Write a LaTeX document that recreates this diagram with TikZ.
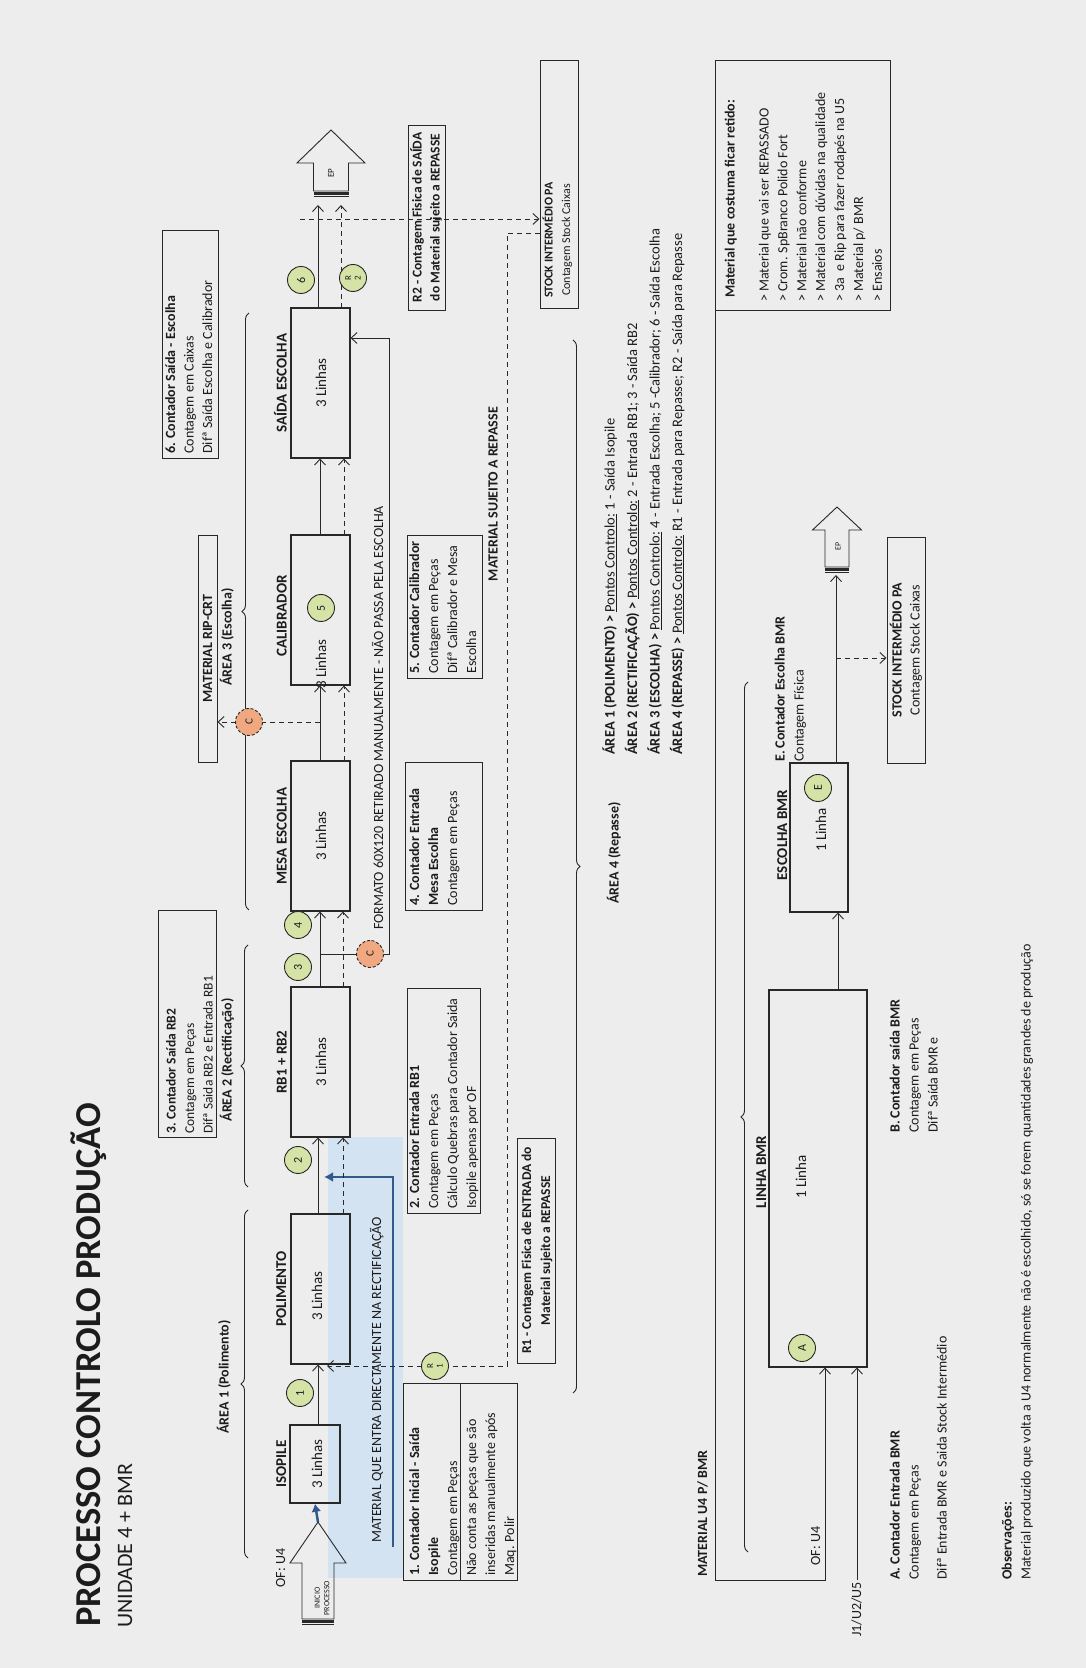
\documentclass[tikz,border=0pt]{standalone}
\usepackage{fontspec}
\setmainfont{Carlito}
\usetikzlibrary{arrows.meta,decorations.pathreplacing}
\pgfdeclarelayer{bgl}
\pgfdeclarelayer{lnl}
\pgfsetlayers{bgl,lnl,main}
\newcommand{\tbl}[1]{\begin{tabular}[t]{@{}l@{}}#1\end{tabular}}
\newcommand{\tbc}[1]{\begin{tabular}[t]{@{}c@{}}#1\end{tabular}}
\definecolor{bgc}{RGB}{237,237,237}
\definecolor{ln}{RGB}{40,40,40}
\definecolor{txtc}{RGB}{28,28,28}
\definecolor{cfill}{RGB}{214,227,166}
\definecolor{ofill}{RGB}{240,168,128}
\definecolor{bfill}{RGB}{212,227,242}
\definecolor{bline}{RGB}{50,90,138}
\tikzset{
 pbox/.style={draw=ln, line width=1.6pt, minimum width=150pt, minimum height=59pt, inner sep=0pt},
 cbox/.style={draw=ln, line width=0.9pt, inner sep=0pt},
 cnum/.style={circle, draw=ln, line width=0.9pt, fill=cfill, minimum size=27pt, inner sep=0pt, text=txtc, font=\fontsize{12}{12}\selectfont},
 rnum/.style={cnum, align=center, font=\fontsize{9}{9.5}\selectfont},
 cor/.style={circle, draw=ln, dash pattern=on 3pt off 2pt, line width=0.9pt, fill=ofill, minimum size=27pt, inner sep=0pt, text=txtc, font=\fontsize{11}{11}\selectfont},
 arr/.style={draw=ln, line width=0.9pt, -{Straight Barb[length=6pt,width=11pt]}},
 darr/.style={arr, dash pattern=on 5pt off 4pt},
 dln/.style={draw=ln, line width=0.9pt, dash pattern=on 5pt off 4pt},
 sln/.style={draw=ln, line width=0.9pt},
 blk/.style={draw=ln, line width=0.9pt, line join=miter},
 txt/.style={inner sep=0pt, text=txtc, font=\fontsize{14}{19}\selectfont},
 btxt/.style={inner sep=0pt, text=txtc, font=\fontsize{14}{19}\selectfont\bfseries},
 lbl/.style={inner sep=0pt, text=txtc, font=\fontsize{15}{18}\selectfont\bfseries, anchor=base},
 lin/.style={inner sep=0pt, text=txtc, font=\fontsize{15}{18}\selectfont, anchor=base},
 curly/.style={draw=ln, line width=0.9pt, decorate, decoration={brace, amplitude=7pt}},
}
\begin{document}
\begin{tikzpicture}[x=1pt,y=1pt]
\useasboundingbox (0,0) rectangle (1086,1668);
\begin{pgfonlayer}{bgl}
\fill[bgc] (0,0) rectangle (1086,1668);
\end{pgfonlayer}
\begin{scope}[x=1pt,y=-1pt,rotate=90,transform shape]
% ---------- background blue region
\begin{pgfonlayer}{bgl}
\fill[bfill] (90,328) rectangle (531,403);
\end{pgfonlayer}
% ---------- title
\node[inner sep=0pt, anchor=base west, text=txtc, font=\fontsize{36.5}{40}\selectfont\bfseries] (title) at (41,100) {PROCESSO CONTROLO PRODUÇÃO};
\node[inner sep=0pt, anchor=base west, text=txtc, font=\fontsize{22}{26}\selectfont] (subtitle) at (40,132) {UNIDADE 4 + BMR};
% ---------- process boxes
\node[pbox, minimum width=78pt, minimum height=50pt] (iso) at (204,315) {};
\node[pbox] (pol) at (379,320.5) {};
\node[pbox] (rb) at (606,320.5) {};
\node[pbox] (mesa) at (832,320.5) {};
\node[pbox] (cal) at (1058,320.5) {};
\node[pbox] (sai) at (1285,320.5) {};
\node[lbl] (isol) at (204,286) {ISOPILE};
\node[lbl] (poll) at (379,286) {POLIMENTO};
\node[lbl] (rbl) at (606,286.5) {RB1 + RB2};
\node[lbl] (mesal) at (832,286.5) {MESA ESCOLHA};
\node[lbl] (call) at (1052,286.5) {CALIBRADOR};
\node[lbl] (sail) at (1285,286.5) {SAÍDA ESCOLHA};
\node[lin] (isot) at (204,322) {3 Linhas};
\node[lin] (polt) at (372,322) {3 Linhas};
\node[lin] (rbt) at (606,326) {3 Linhas};
\node[lin] (mesat) at (832,326) {3 Linhas};
\node[lin] (calt) at (1004,326) {3 Linhas};
\node[lin] (sait) at (1285,326) {3 Linhas};
% ---------- block arrows
\draw[blk] (49,302) -- (105,302) -- (105,290) -- (146,318) -- (105,346) -- (105,334) -- (49,334) -- cycle;
\draw[ln, line width=2.5pt] (46.5,302) -- (46.5,334);
\draw[ln, line width=1.2pt] (43.6,302) -- (43.6,334);
\node[inner sep=0pt, align=center, text=txtc, font=\fontsize{8}{9.5}\selectfont] (ini) at (70,322) {INICIO\\PROCESSO};
\node[txt, anchor=base] (ofu4) at (100,285) {OF: U4};
\draw[blk] (1477,313.5) -- (1505,313.5) -- (1505,297) -- (1538,331) -- (1505,365) -- (1505,348.5) -- (1477,348.5) -- cycle;
\draw[ln, line width=2.5pt] (1474.5,313.5) -- (1474.5,348.5);
\draw[ln, line width=1.2pt] (1471.6,313.5) -- (1471.6,348.5);
\node[inner sep=0pt, text=txtc, font=\fontsize{9}{9}\selectfont] (ep1) at (1495,331) {EP};
\draw[blk] (1101,825) -- (1138,825) -- (1138,812.5) -- (1161,837) -- (1138,861.5) -- (1138,849) -- (1101,849) -- cycle;
\draw[ln, line width=2.5pt] (1098.5,825) -- (1098.5,849);
\draw[ln, line width=1.2pt] (1095.6,825) -- (1095.6,849);
\node[inner sep=0pt, text=txtc, font=\fontsize{8}{8}\selectfont] (ep2) at (1122,838) {EP};
% ---------- blue material
\node[txt, anchor=base west] (mqe) at (125,381) {MATERIAL QUE ENTRA DIRECTAMENTE NA RECTIFICAÇÃO};
\begin{pgfonlayer}{lnl}
\draw[bline, line width=2.2pt, -{Latex[length=9pt,width=10pt]}] (121,393) -- (491,393) -- (491,324);
\draw[bline, line width=2.5pt, -{Latex[length=8pt,width=10pt]}] (146,318) -- (iso.west);
% ---------- main flow
\draw[arr] (243,318) -- (303.5,318);
\draw[arr] (454,318) -- (530.5,318);
\draw[darr] (454,343) -- (530.5,343);
\draw[arr] (681,320) -- (756.5,320);
\draw[darr] (681,343) -- (756.5,343);
\draw[arr] (907,320) -- (982.5,320);
\draw[darr] (907,344) -- (982.5,344);
\draw[arr] (1133,320) -- (1209.5,320);
\draw[darr] (1133,344) -- (1209.5,344);
\draw[arr] (1360,318) -- (1463,318);
\draw[darr] (1360,341) -- (1463,341);
% C branches
\draw[dln] (946,320) -- (946,262);
\draw[dln, -{Straight Barb[length=6pt,width=11pt]}] (946,236) -- (946,217.5);
\draw[sln] (714,320) -- (714,357);
\draw[arr] (714,383) -- (714,389) -- (1330,389) -- (1330,350.5);
% R1 / R2 dashed
\draw[darr] (1435,539.5) -- (1435,507) -- (302,507) -- (302,327);
\draw[darr] (1449,300) -- (1449,539.5);
% bottom flow
\draw[arr] (1358,715) -- (88,715) -- (88,825) -- (300.5,825);
\draw[arr] (88,857) -- (300.5,857);
\draw[arr] (678,838) -- (755.5,838);
\draw[arr] (905,836) -- (1093,836);
\draw[darr] (1010,836) -- (1010,886.5);
% braces
\draw[curly] (110,248) -- (458,248);
\draw[curly] (481,248) -- (723,248);
\draw[curly] (758,249) -- (1355,249);
\draw[curly] (1328,573) -- (275,573);
\draw[curly] (116,748) -- (986,748);
\end{pgfonlayer}
\node[txt, anchor=base west] (form) at (738,383) {FORMATO 60X120 RETIRADO MANUALMENTE - NÃO PASSA PELA ESCOLHA};
% ---------- circles
\node[cnum] (c1) at (275,300) {1};
\node[cnum] (c2) at (508,298) {2};
\node[cnum] (c3) at (701,298) {3};
\node[cnum] (c4) at (743,298) {4};
\node[cnum] (c5) at (1060,321) {5};
\node[cnum] (c6) at (1388,301) {6};
\node[rnum] (r1) at (302,435) {R\\1};
\node[rnum] (r2) at (1390,353) {R\\2};
\node[cor] (cc1) at (946,249) {C};
\node[cor] (cc2) at (714,370) {C};
% ---------- area labels
\node[btxt, anchor=base] (a1) at (291,228.5) {ÁREA 1 (Polimento)};
\node[btxt, anchor=base] (a2) at (608,231.5) {ÁREA 2 (Rectificação)};
\node[btxt, anchor=base] (a3) at (1031,231.5) {ÁREA 3 (Escolha)};
\node[btxt, anchor=base] (a4) at (815,618.5) {ÁREA 4 (Repasse)};
\node[cbox, minimum width=227pt, minimum height=19pt, text=txtc, font=\fontsize{14}{16}\selectfont\bfseries] (rip) at (1019.5,207.5) {MATERIAL RIP-CRT};
% ---------- counter boxes
\node[cbox, minimum width=197pt, minimum height=114pt] (b1) at (186.5,460) {};
\draw[sln] (88,460) -- (285,460);
\node[txt, anchor=base west] (b1t) at (92,419) {\tbl{\textbf{1. Contador Inicial - Saída}\\ \textbf{Isopile}\\ Contagem em Peças\\ Não conta as peças que são\\ inseridas manualmente após\\ Maq. Polir}};
\node[cbox, minimum width=225pt, minimum height=73pt] (b2) at (567.5,443.5) {};
\node[txt, anchor=base west] (b2t) at (459,419) {\tbl{\textbf{2. Contador Entrada RB1}\\ Contagem em Peças\\ Cálculo Quebras para Contador Saida\\ Isopile apenas por OF}};
\node[cbox, minimum width=227pt, minimum height=58pt] (b3) at (644.5,187) {};
\node[txt, anchor=base west, font=\fontsize{13.5}{18.5}\selectfont] (b3t) at (534,175.5) {\tbl{\textbf{3. Contador Saída RB2}\\ Contagem em Peças\\ Difª Saida RB2 e Entrada RB1}};
\node[cbox, minimum width=148pt, minimum height=77pt] (b4) at (832,443.5) {};
\node[txt, anchor=base west] (b4t) at (762,419) {\tbl{\textbf{4. Contador Entrada}\\ \textbf{Mesa Escolha}\\ Contagem em Peças}};
\node[cbox, minimum width=143pt, minimum height=75pt] (b5) at (1061.5,444.5) {};
\node[txt, anchor=base west] (b5t) at (994,419) {\tbl{\textbf{5. Contador Calibrador}\\ Contagem em Peças\\ Difª Calibrador e Mesa\\ Escolha}};
\node[cbox, minimum width=228pt, minimum height=56pt] (b6) at (1324,190) {};
\node[txt, anchor=base west, font=\fontsize{14}{18.5}\selectfont] (b6t) at (1214,175) {\tbl{\textbf{6. Contador Saída - Escolha}\\ Contagem em Caixas\\ Difª Saída Escolha e Calibrador}};
\node[cbox, minimum width=185pt, minimum height=37pt] (r2b) at (1450.5,426.5) {};
\node[inner sep=0pt, anchor=base, text=txtc, font=\fontsize{13.5}{18}\selectfont\bfseries] (r2t) at (1450.5,421.5) {\tbc{R2 - Contagem Fisica de SAÍDA\\ do Material sujeito a REPASSE}};
\node[cbox, minimum width=225pt, minimum height=38pt] (r1b) at (417.5,536) {};
\node[inner sep=0pt, anchor=base, text=txtc, font=\fontsize{13.5}{19}\selectfont\bfseries] (r1t) at (417.5,531) {\tbc{R1 - Contagem Fisica de ENTRADA do\\ Material sujeito a REPASSE}};
\node[btxt, anchor=base east] (msr) at (1261,497.5) {MATERIAL SUJEITO A REPASSE};
% ---------- stock boxes
\node[cbox, minimum width=248pt, minimum height=38pt] (st1) at (1484,559) {};
\node[inner sep=0pt, anchor=base, text=txtc, font=\fontsize{12}{17.5}\selectfont] (st1t) at (1428,552.5) {\tbc{\textbf{STOCK INTERMÉDIO PA}\\ Contagem Stock Caixas}};
\node[cbox, minimum width=226pt, minimum height=38pt] (st2) at (1018,906) {};
\node[inner sep=0pt, anchor=base, text=txtc, font=\fontsize{14}{18}\selectfont] (st2t) at (1018,901.5) {\tbc{\textbf{STOCK INTERMÉDIO PA}\\ Contagem Stock Caixas}};
% ---------- retido box
\node[cbox, minimum width=250pt, minimum height=175pt] (ret) at (1483,802.5) {};
\node[btxt, anchor=base west] (rett) at (1370,734.5) {Material que costuma ficar retido:};
\node[txt, anchor=base west, font=\fontsize{14}{18.9}\selectfont] (reti) at (1366,768.5) {\tbl{> Material que vai ser REPASSADO\\ > Crom. SpBranco Polido Fort\\ > Material não conforme\\ > Material com dúvidas na qualidade\\ > 3a\ \ e Rip para fazer rodapés na U5\\ > Material p/ BMR\\ > Ensaios}};
% ---------- legend
\node[txt, anchor=base west, font=\fontsize{14.5}{22.5}\selectfont] (leg) at (913,614.5) {\tbl{\textbf{ÁREA 1 (POLIMENTO) >} \underline{Pontos Controlo:} 1 - Saída Isopile\\ \textbf{ÁREA 2 (RECTIFICAÇÃO) >} \underline{Pontos Controlo:} 2 - Entrada RB1; 3 - Saída RB2\\ \textbf{ÁREA 3 (ESCOLHA) >} \underline{Pontos Controlo:} 4 - Entrada Escolha; 5 -Calibrador; 6 - Saída Escolha\\ \textbf{ÁREA 4 (REPASSE) >} \underline{Pontos Controlo:} R1 - Entrada para Repasse; R2 - Saída para Repasse}};
% ---------- BMR part
\node[pbox, minimum width=377pt, minimum height=98pt] (lin) at (489.5,818) {};
\node[pbox, minimum width=149pt, minimum height=58pt] (esc) at (830.5,819) {};
\node[lbl] (linl) at (496,766) {LINHA BMR};
\node[lbl] (escl) at (833,787) {ESCOLHA BMR};
\node[lin] (lint) at (491,806) {1 Linha};
\node[lin] (esct) at (838,826) {1 Linha};
\node[cnum] (ca) at (320,802) {A};
\node[cnum] (ce) at (880,818) {E};
\node[btxt, anchor=base west] (mu4) at (91,707) {MATERIAL U4 P/ BMR};
\node[txt, anchor=base] (ofu4b) at (122,820) {OF: U4};
\node[txt, anchor=base east] (j1) at (86,861) {J1/U2/U5};
\node[txt, anchor=base west] (et) at (906,784.5) {\tbl{\textbf{E. Contador Escolha BMR}\\ Contagem Física}};
\node[txt, anchor=base west] (bt) at (535,899.5) {\tbl{\textbf{B. Contador saída BMR}\\ Contagem em Peças\\ Difª Saída BMR e}};
\node[txt, anchor=base west] (at) at (88,899.5) {\tbl{\textbf{A. Contador Entrada BMR}\\ Contagem em Peças}};
\node[txt, anchor=base west] (at2) at (88,946.5) {Difª Entrada BMR e Saida Stock Intermédio};
\node[txt, anchor=base west] (obs) at (88,1011.5) {\tbl{\textbf{Observações:}\\ Material produzido que volta a U4 normalmente não é escolhido, só se forem quantidades grandes de produção}};
\end{scope}
\end{tikzpicture}
\end{document}
